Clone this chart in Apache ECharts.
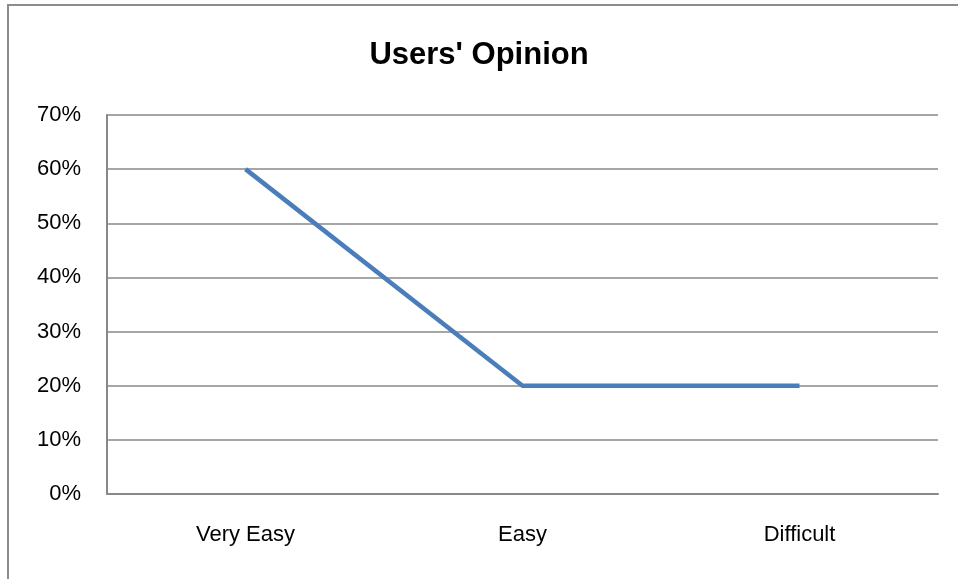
<!DOCTYPE html>
<html>
<head>
<meta charset="utf-8">
<script src="https://cdn.jsdelivr.net/npm/echarts@6/dist/echarts.min.js"></script>
<style>
html, body { margin: 0; padding: 0; background: #fff; }
#chart { width: 958px; height: 579px; }
</style>
</head>
<body>
<div id="chart"></div>
<script>
// Survey answers and share of users choosing each
const categories = ['Very Easy', 'Easy', 'Difficult'];
const opinionShare = [0.6, 0.2, 0.2];
const yTicks = [0, 0.1, 0.2, 0.3, 0.4, 0.5, 0.6, 0.7];

const FONT = '"Liberation Sans Narrow", "Liberation Sans", Arial, sans-serif';

const chart = echarts.init(document.getElementById('chart'), null, { renderer: 'canvas' });
chart.setOption({
  animation: false,
  backgroundColor: '#ffffff',
  graphic: [{
    type: 'rect',
    shape: { x: 8, y: 5, width: 1200, height: 1200 },
    style: { fill: 'none', stroke: '#8c8c8c', lineWidth: 2 },
    silent: true
  }],
  title: {
    text: "Users' Opinion",
    left: 'center',
    top: 35,
    textStyle: { fontFamily: FONT, fontWeight: 'bold', fontSize: 31, color: '#000' }
  },
  grid: { left: 107, right: 20, top: 115, bottom: 85 },
  xAxis: {
    type: 'category',
    data: categories,
    boundaryGap: true,
    axisLine: { show: true, lineStyle: { color: '#888', width: 2 } },
    axisTick: { show: false },
    axisLabel: { fontFamily: FONT, fontSize: 22, color: '#000', margin: 30 }
  },
  yAxis: {
    type: 'value',
    min: yTicks[0],
    max: yTicks[yTicks.length - 1],
    interval: 0.1,
    axisLine: { show: true, lineStyle: { color: '#888', width: 2 } },
    axisTick: { show: false },
    splitLine: { show: true, lineStyle: { color: '#888', width: 1.5 } },
    axisLabel: {
      fontFamily: FONT, fontSize: 22, color: '#000', margin: 26,
      formatter: v => Math.round(v * 100) + '%'
    }
  },
  series: [{
    type: 'line',
    data: opinionShare,
    symbol: 'none',
    lineStyle: { color: '#4a7ebb', width: 4.5, cap: 'butt', join: 'round' }
  }]
});
</script>
</body>
</html>
